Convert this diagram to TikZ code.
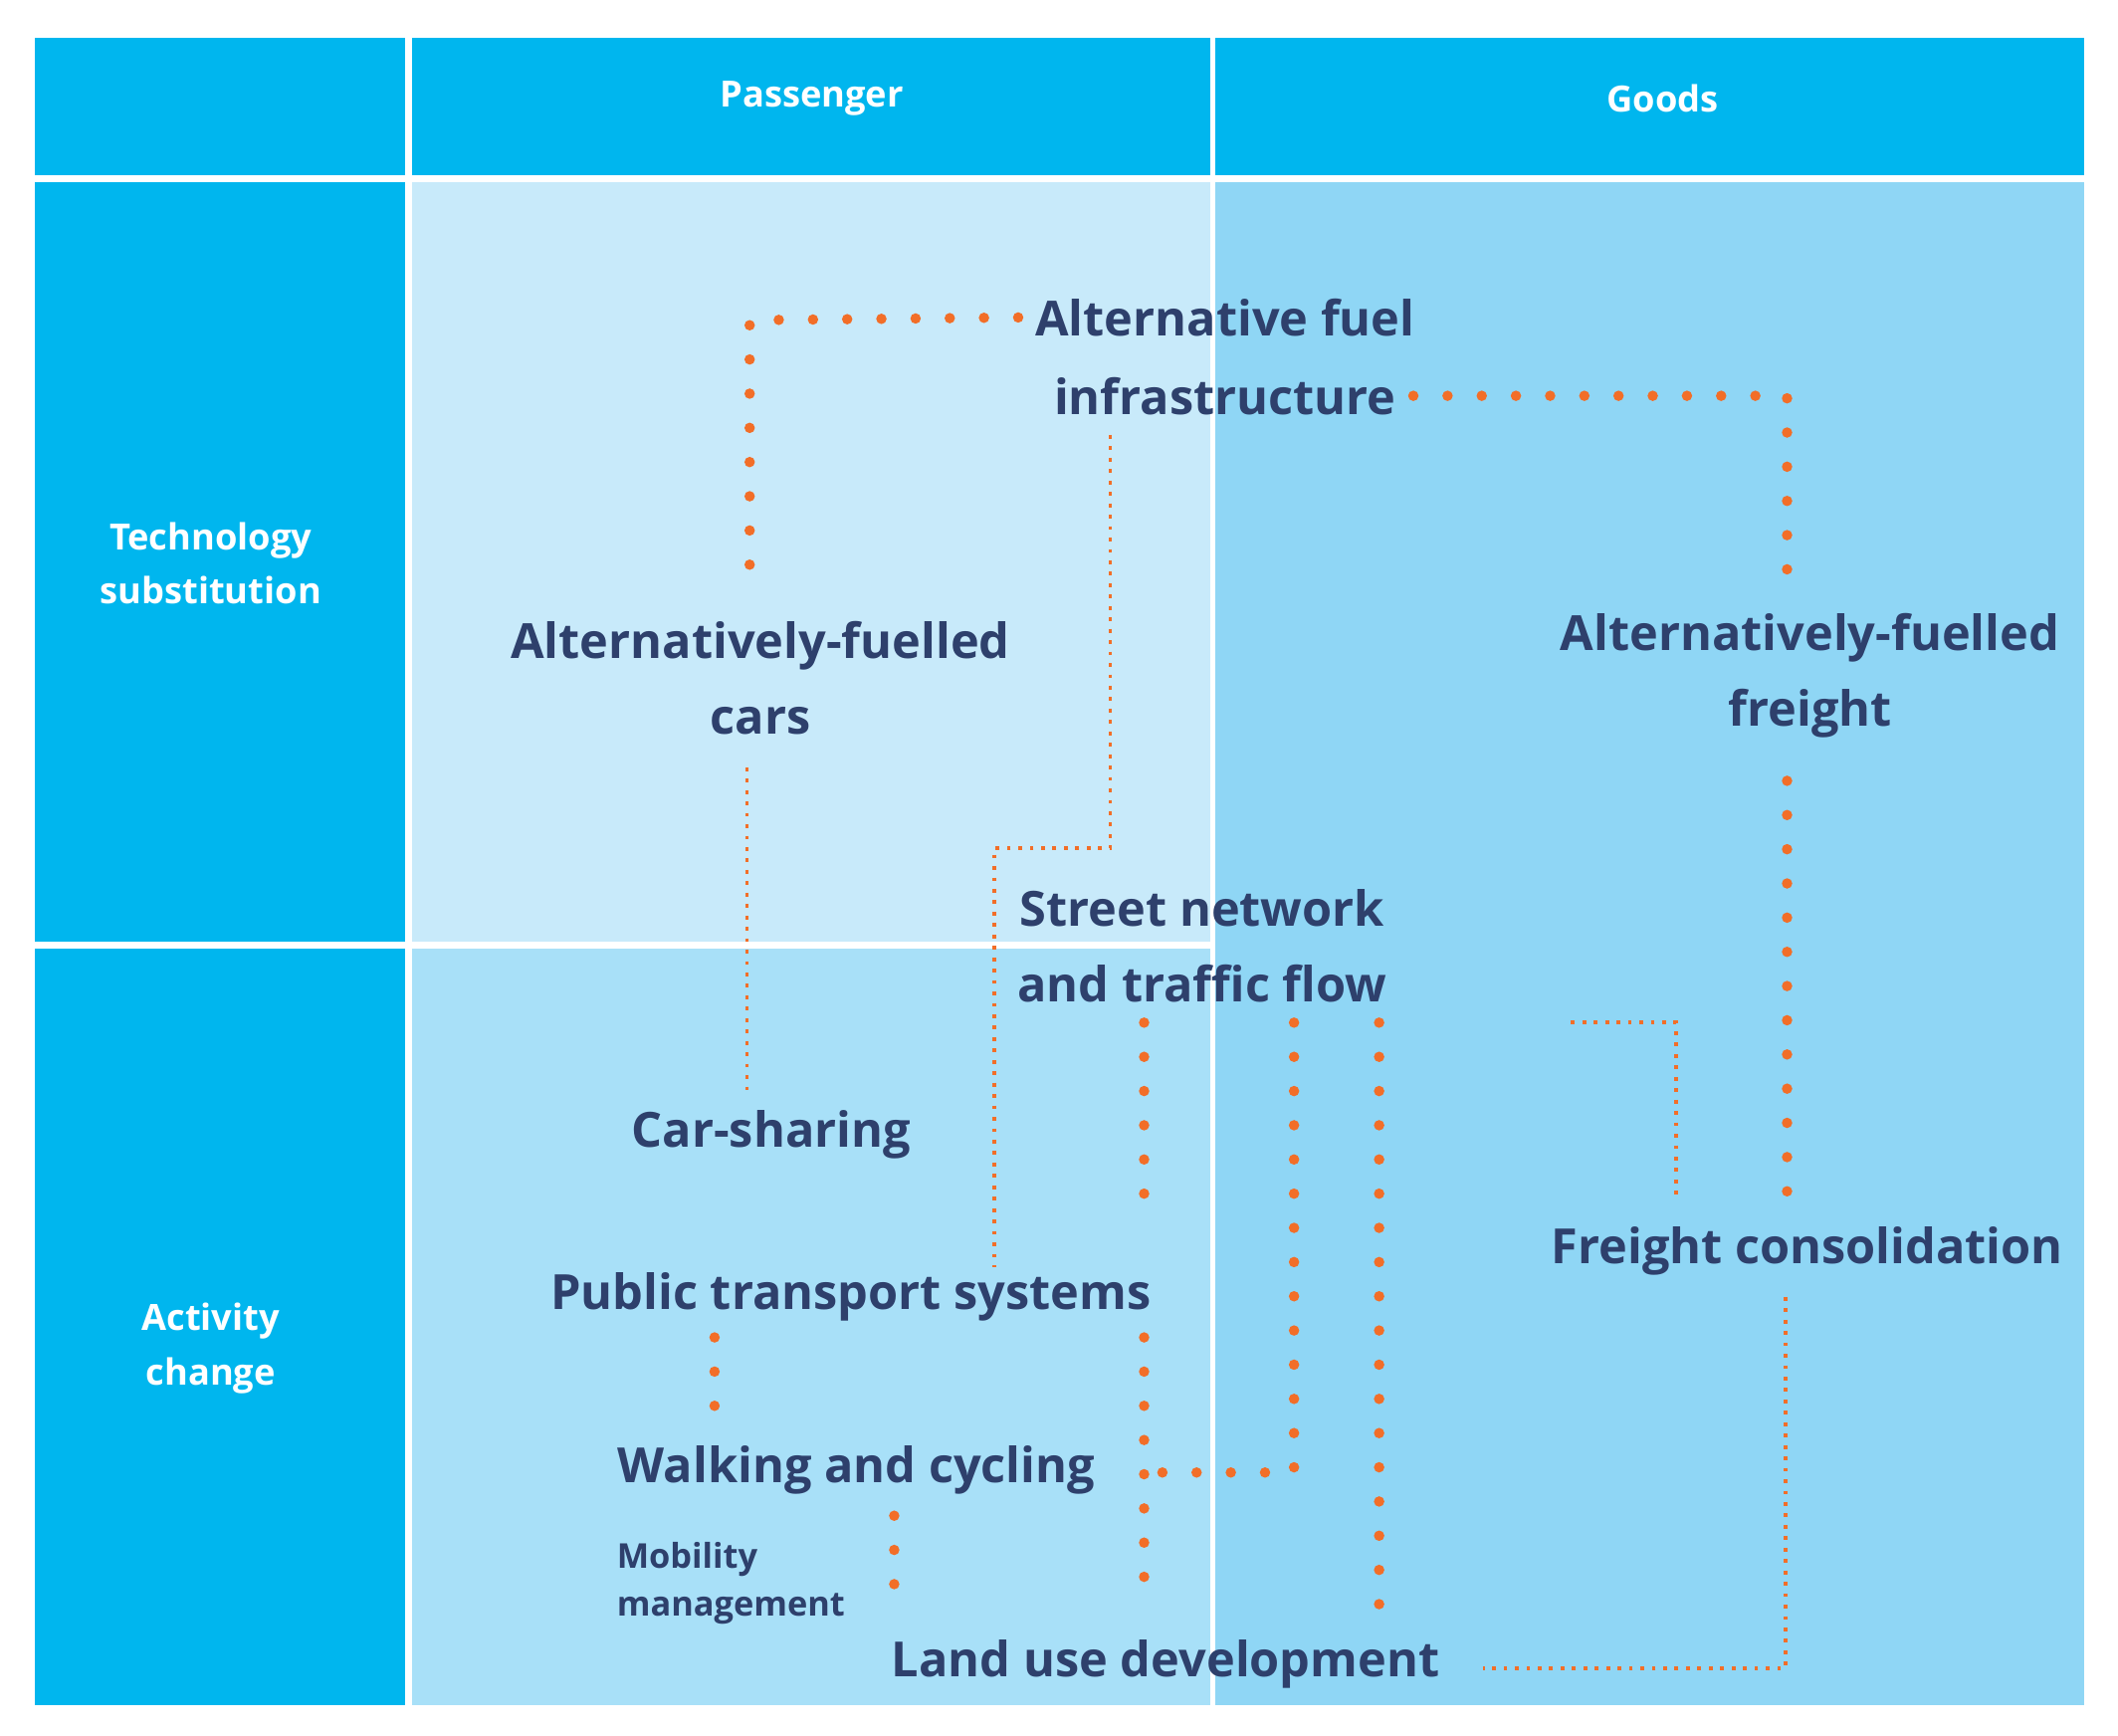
\documentclass[tikz,border=0pt]{standalone}
\usepackage{fontspec}
\setmainfont{Open Sans}
\definecolor{hdr}{RGB}{0,182,238}
\definecolor{ptech}{RGB}{200,234,250}
\definecolor{pact}{RGB}{168,224,248}
\definecolor{goods}{RGB}{143,214,245}
\definecolor{navy}{RGB}{46,64,108}
\definecolor{org}{RGB}{242,110,40}
\begin{document}
\begin{tikzpicture}[x=0.01cm,y=-0.01cm,
  lbl/.style={text=navy,font=\bfseries\fontsize{10.2}{16}\selectfont,align=center,inner sep=0},
  hd/.style={text=white,font=\bfseries\fontsize{7.6}{11.5}\selectfont,align=center,inner sep=0},
  big/.style={org,line width=2.2pt,line cap=round,dash pattern=on 0pt off 7.2pt},
  thin/.style={org,line width=0.8pt,dash pattern=on 0.8pt off 1.6pt}]
\useasboundingbox (0,0) rectangle (1568,1285);
\fill[white] (0,0) rectangle (1568,1285);
\fill[hdr] (26,28) rectangle (300,130);
\fill[hdr] (305,28) rectangle (896,130);
\fill[hdr] (900,28) rectangle (1543,130);
\fill[hdr] (26,135) rectangle (300,697);
\fill[hdr] (26,702) rectangle (300,1262);
\fill[ptech] (305,135) rectangle (896,697);
\fill[pact] (305,702) rectangle (896,1262);
\fill[goods] (900,135) rectangle (1543,1262);
\node[hd] (hp) at (601,73) {Passenger};
\node[hd] (hg) at (1231,73) {Goods};
\node[hd] (ht) at (156,417) {Technology\\substitution};
\node[hd] (ha) at (156,998) {Activity\\change};
\node[lbl] (afi1) at (907,235) {Alternative fuel};
\node[lbl] (afi2) at (907,293) {infrastructure};
\node[lbl] (afc) at (563,502) {Alternatively-fuelled\\cars};
\node[lbl] (aff) at (1340,500) {Alternatively-fuelled\\freight};
\node[lbl] (sn1) at (890,672) {Street network};
\node[lbl] (sn2) at (890,728) {and traffic flow};
\node[lbl] (cs) at (571,840) {Car-sharing};
\node[lbl] (pt) at (630,960) {Public transport systems};
\node[lbl] (fc) at (1338,926) {Freight consolidation};
\node[lbl] (wc) at (634,1088) {Walking and cycling};
\node[lbl,font=\bfseries\fontsize{7.2}{10}\selectfont,align=left,anchor=west] (mm) at (456,1172) {Mobility\\management};
\node[lbl] (lu) at (863,1232) {Land use development};
\draw[big] (afi1.west) ++(-12,0) -- (555,237) -- (555,437);
\draw[big] (afi2.east) ++(12,0) -- (1323,293) -- (1323,432);
\draw[thin] (822,322) -- (822,628) -- (736,628) -- (736,938);
\draw[thin] (553,568) -- (553,808);
\draw[big] (1323,578) -- (1323,888);
\draw[thin] (1163,757) -- (1241,757) -- (1241,888);
\draw[big] (847,757) -- (847,905);
\draw[big] (847,990) -- (847,1190);
\draw[big] (958,757) -- (958,1090) -- (847,1090);
\draw[big] (1021,757) -- (1021,1190);
\draw[big] (529,990) -- (529,1055);
\draw[big] (662,1122) -- (662,1192);
\draw[thin] (1322,960) -- (1322,1235) -- (1098,1235);
\end{tikzpicture}
\end{document}
